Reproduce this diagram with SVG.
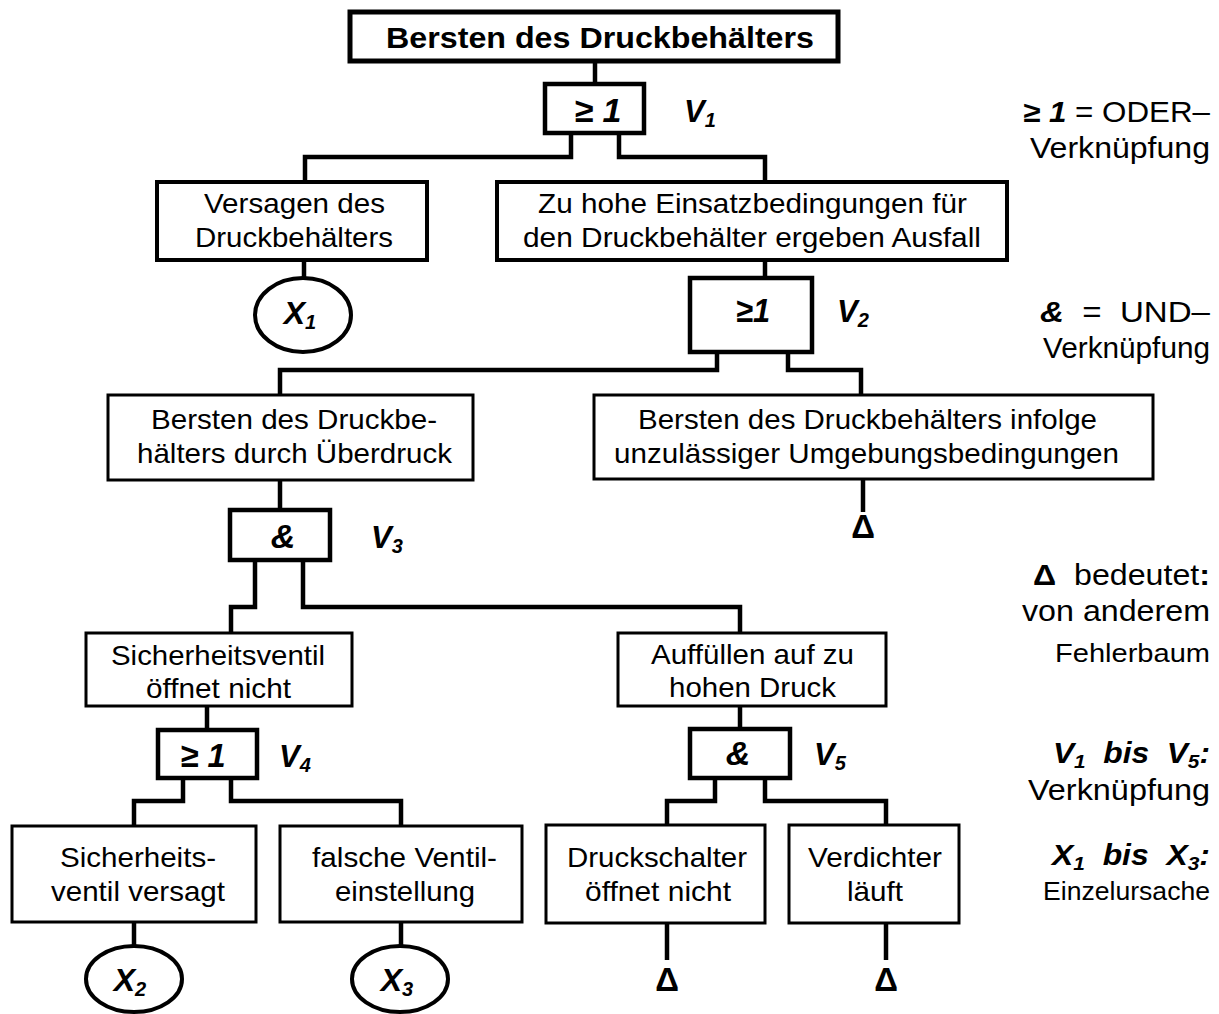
<svg xmlns="http://www.w3.org/2000/svg" width="1219" height="1014" viewBox="0 0 1219 1014">
<style>
.bg{fill:#fff}
.box{fill:#fff;stroke:#000;stroke-width:3}
.b4{stroke-width:4}
.b5{stroke-width:5}
.gate{fill:#fff;stroke:#000;stroke-width:4.5}
.ell{fill:#fff;stroke:#000;stroke-width:4}
.conn{fill:none;stroke:#000;stroke-width:4.5;stroke-linejoin:miter;stroke-linecap:butt}
text{font-family:"Liberation Sans",Arial,Helvetica,sans-serif;fill:#000;white-space:pre}
.t{font-size:28.5px;text-anchor:middle}
.title{font-size:29px;font-weight:bold;text-anchor:middle}
.gl{font-size:34px;font-weight:bold;font-style:italic;text-anchor:middle}
.vl{font-size:31px;font-weight:bold;font-style:italic}
.xl{font-size:32px;font-weight:bold;font-style:italic;text-anchor:middle}
.delta{font-size:33px;font-weight:bold;text-anchor:middle}
.lg{font-size:29px;text-anchor:end}
.lgs{font-size:25px;text-anchor:end}
.bi{font-weight:bold;font-style:italic}
.bo{font-weight:bold}
</style>
<rect class="bg" x="0" y="0" width="1219" height="1014"/>

<g id="connectors">
<polyline class="conn" points="595,61 595,84"/>
<polyline class="conn" points="571,133 571,157 305,157 305,182"/>
<polyline class="conn" points="619,133 619,157 765,157 765,182"/>
<polyline class="conn" points="304,260 304,278"/>
<polyline class="conn" points="765,260 765,278"/>
<polyline class="conn" points="717,352 717,370 280,370 280,395"/>
<polyline class="conn" points="788,352 788,370 861,370 861,395"/>
<polyline class="conn" points="280,480 280,510"/>
<polyline class="conn" points="255,560 255,607 231,607 231,633"/>
<polyline class="conn" points="303,560 303,607 740,607 740,633"/>
<polyline class="conn" points="863,479 863,512"/>
<polyline class="conn" points="207,706 207,730"/>
<polyline class="conn" points="183,778 183,801 134,801 134,826"/>
<polyline class="conn" points="231,778 231,801 401,801 401,826"/>
<polyline class="conn" points="740,706 740,729"/>
<polyline class="conn" points="715,778 715,801 667,801 667,825"/>
<polyline class="conn" points="765,778 765,801 886,801 886,825"/>
<polyline class="conn" points="134,922 134,946"/>
<polyline class="conn" points="401,922 401,946"/>
<polyline class="conn" points="667,923 667,960"/>
<polyline class="conn" points="886,923 886,960"/>
</g>

<g id="top">
<rect class="box b5" x="350" y="12" width="488" height="49"/>
<text class="title" x="600" y="48" textLength="428" lengthAdjust="spacingAndGlyphs">Bersten des Druckbehälters</text>
</g>

<g id="v1">
<rect class="gate" x="545" y="84" width="99" height="49"/>
<text class="gl" x="598" y="122" textLength="47" lengthAdjust="spacingAndGlyphs">≥ 1</text>
<text class="vl" x="684" y="122">V<tspan dy="5" font-size="20">1</tspan></text>
</g>

<g id="versagen">
<rect class="box b4" x="157" y="182" width="270" height="78"/>
<text class="t" x="294.5" y="213" textLength="181" lengthAdjust="spacingAndGlyphs">Versagen des</text>
<text class="t" x="294" y="247" textLength="198" lengthAdjust="spacingAndGlyphs">Druckbehälters</text>
</g>

<g id="x1">
<ellipse class="ell" cx="303" cy="315" rx="48" ry="37"/>
<text class="xl" x="300" y="324">X<tspan dy="5" font-size="20">1</tspan></text>
</g>

<g id="zuhohe">
<rect class="box b4" x="497" y="182" width="510" height="78"/>
<text class="t" x="752.5" y="213" textLength="429" lengthAdjust="spacingAndGlyphs">Zu hohe Einsatzbedingungen für</text>
<text class="t" x="752" y="247" textLength="458" lengthAdjust="spacingAndGlyphs">den Druckbehälter ergeben Ausfall</text>
</g>

<g id="v2">
<rect class="gate" x="690" y="278" width="122" height="74"/>
<text class="gl" x="753" y="322" textLength="34" lengthAdjust="spacingAndGlyphs">≥1</text>
<text class="vl" x="837" y="322">V<tspan dy="5" font-size="20">2</tspan></text>
</g>

<g id="ueberdruck">
<rect class="box" x="108" y="395" width="365" height="85"/>
<text class="t" x="294" y="429" textLength="286" lengthAdjust="spacingAndGlyphs">Bersten des Druckbe-</text>
<text class="t" x="294.5" y="463" textLength="315" lengthAdjust="spacingAndGlyphs">hälters durch Überdruck</text>
</g>

<g id="umgebung">
<rect class="box" x="594" y="395" width="559" height="84"/>
<text class="t" x="867.5" y="429" textLength="459" lengthAdjust="spacingAndGlyphs">Bersten des Druckbehälters infolge</text>
<text class="t" x="866.5" y="463" textLength="505" lengthAdjust="spacingAndGlyphs">unzulässiger Umgebungsbedingungen</text>
</g>

<g id="delta1">
<text class="delta" x="863" y="538">Δ</text>
</g>

<g id="v3">
<rect class="gate" x="230" y="510" width="100" height="50"/>
<text class="gl" x="283" y="548" font-size="32">&amp;</text>
<text class="vl" x="371" y="548">V<tspan dy="5" font-size="20">3</tspan></text>
</g>

<g id="sicherheitsventil">
<rect class="box" x="86" y="633" width="266" height="73"/>
<text class="t" x="218" y="665" textLength="214" lengthAdjust="spacingAndGlyphs">Sicherheitsventil</text>
<text class="t" x="218.5" y="698" textLength="145" lengthAdjust="spacingAndGlyphs">öffnet nicht</text>
</g>

<g id="auffuellen">
<rect class="box" x="618" y="633" width="268" height="73"/>
<text class="t" x="752.5" y="664" textLength="203" lengthAdjust="spacingAndGlyphs">Auffüllen auf zu</text>
<text class="t" x="752.5" y="697" textLength="167" lengthAdjust="spacingAndGlyphs">hohen Druck</text>
</g>

<g id="v4">
<rect class="gate" x="158" y="730" width="99" height="48"/>
<text class="gl" x="203" y="767" font-size="32" textLength="45" lengthAdjust="spacingAndGlyphs">≥ 1</text>
<text class="vl" x="279" y="767">V<tspan dy="5" font-size="20">4</tspan></text>
</g>

<g id="v5">
<rect class="gate" x="690" y="729" width="100" height="49"/>
<text class="gl" x="738" y="765" font-size="32">&amp;</text>
<text class="vl" x="814" y="765">V<tspan dy="5" font-size="20">5</tspan></text>
</g>

<g id="sicherheits">
<rect class="box" x="12" y="826" width="244" height="96"/>
<text class="t" x="138" y="867" textLength="156" lengthAdjust="spacingAndGlyphs">Sicherheits-</text>
<text class="t" x="138" y="901" textLength="174" lengthAdjust="spacingAndGlyphs">ventil versagt</text>
</g>

<g id="falsche">
<rect class="box" x="280" y="826" width="242" height="96"/>
<text class="t" x="404.5" y="867" textLength="185" lengthAdjust="spacingAndGlyphs">falsche Ventil-</text>
<text class="t" x="405" y="901" textLength="140" lengthAdjust="spacingAndGlyphs">einstellung</text>
</g>

<g id="druckschalter">
<rect class="box" x="546" y="825" width="219" height="98"/>
<text class="t" x="657" y="867" textLength="180" lengthAdjust="spacingAndGlyphs">Druckschalter</text>
<text class="t" x="658" y="901" textLength="146" lengthAdjust="spacingAndGlyphs">öffnet nicht</text>
</g>

<g id="verdichter">
<rect class="box" x="789" y="825" width="170" height="98"/>
<text class="t" x="875" y="867" textLength="134" lengthAdjust="spacingAndGlyphs">Verdichter</text>
<text class="t" x="875" y="901" textLength="56" lengthAdjust="spacingAndGlyphs">läuft</text>
</g>

<g id="x2">
<ellipse class="ell" cx="134" cy="979" rx="48" ry="33"/>
<text class="xl" x="130" y="991">X<tspan dy="5" font-size="20">2</tspan></text>
</g>

<g id="x3">
<ellipse class="ell" cx="400" cy="979" rx="48" ry="33"/>
<text class="xl" x="397" y="991">X<tspan dy="5" font-size="20">3</tspan></text>
</g>

<g id="delta2">
<text class="delta" x="667" y="991">Δ</text>
</g>
<g id="delta3">
<text class="delta" x="886" y="991">Δ</text>
</g>

<g id="legend">
<text class="lg" x="1210" y="122" textLength="187" lengthAdjust="spacingAndGlyphs"><tspan class="bi">≥ 1</tspan> = ODER–</text>
<text class="lg" x="1210" y="158" textLength="180" lengthAdjust="spacingAndGlyphs">Verknüpfung</text>
<text class="lg" x="1210" y="322" textLength="170" lengthAdjust="spacingAndGlyphs"><tspan class="bi">&amp;</tspan>  =  UND–</text>
<text class="lg" x="1210" y="358" textLength="167" lengthAdjust="spacingAndGlyphs">Verknüpfung</text>
<text class="lg" x="1210" y="585" textLength="177" lengthAdjust="spacingAndGlyphs"><tspan class="bo">Δ</tspan>  bedeutet<tspan class="bo">:</tspan></text>
<text class="lg" x="1210" y="621" textLength="188" lengthAdjust="spacingAndGlyphs">von anderem</text>
<text class="lgs" x="1210" y="662" textLength="155" lengthAdjust="spacingAndGlyphs">Fehlerbaum</text>
<text class="lg bi" x="1210" y="763" textLength="157" lengthAdjust="spacingAndGlyphs">V<tspan dy="5" font-size="19">1</tspan><tspan dy="-5">  bis  V</tspan><tspan dy="5" font-size="19">5</tspan><tspan dy="-5">:</tspan></text>
<text class="lg" x="1210" y="800" textLength="182" lengthAdjust="spacingAndGlyphs">Verknüpfung</text>
<text class="lg bi" x="1210" y="865" textLength="158" lengthAdjust="spacingAndGlyphs">X<tspan dy="5" font-size="19">1</tspan><tspan dy="-5">  bis  X</tspan><tspan dy="5" font-size="19">3</tspan><tspan dy="-5">:</tspan></text>
<text class="lgs" x="1210" y="900" textLength="167" lengthAdjust="spacingAndGlyphs">Einzelursache</text>
</g>
</svg>
